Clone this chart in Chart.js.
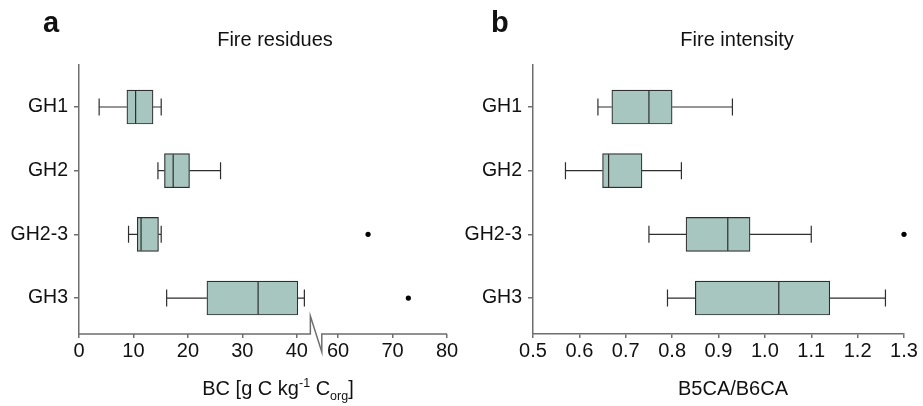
<!DOCTYPE html>
<html>
<head>
<meta charset="utf-8">
<script src="https://cdn.jsdelivr.net/npm/chart.js@4.4.0/dist/chart.umd.min.js"></script>
<style>
  html, body { margin: 0; padding: 0; background: #fff; }
  #wrap { position: relative; width: 923px; height: 406px; }
  .panel { position: absolute; top: 0; height: 406px; }
  #left { left: 0; width: 461px; }
  #right { left: 461px; width: 462px; }
</style>
</head>
<body>
<div id="wrap">
  <div class="panel" id="left"><canvas id="bcChart"></canvas></div>
  <div class="panel" id="right"><canvas id="ratioChart"></canvas></div>
</div>
<script>
const groups = ['GH1', 'GH2', 'GH2-3', 'GH3'];

// a: Fire residues, BC [g C kg-1 Corg]
const bcMin = [3.7, 14.5, 9.1, 16.1];
const bcQ1 = [8.8, 15.7, 10.7, 23.5];
const bcMed = [10.4, 17.3, 11.4, 32.9];
const bcQ3 = [13.6, 20.3, 14.6, 40.2];
const bcMax = [15.1, 26.0, 15.1, 41.4];
const bcOutliers = [null, null, 65.5, 72.9];
const bcTicks = [0, 10, 20, 30, 40, 60, 70, 80];

// b: Fire intensity, B5CA/B6CA
const ratioMin = [0.64, 0.57, 0.75, 0.79];
const ratioQ1 = [0.67, 0.65, 0.83, 0.85];
const ratioMed = [0.75, 0.663, 0.92, 1.03];
const ratioQ3 = [0.80, 0.735, 0.968, 1.14];
const ratioMax = [0.93, 0.82, 1.10, 1.26];
const ratioOutliers = [null, null, 1.30, null];
const ratioTicks = [0.5, 0.6, 0.7, 0.8, 0.9, 1.0, 1.1, 1.2, 1.3];

// broken BC axis: values above the break are shifted left
const breakShift = 12.4;
const breakLeftEnd = 42.5;   // last value drawn before the break
const breakRightStart = 57.0; // first value drawn after the break
const bcAxis = v => (v > 50 ? v - breakShift : v);

const FONT = '"Liberation Sans", Arial, Helvetica, sans-serif';
const AXIS_GREY = '#6e6e6e';
const LINE_DARK = '#2e2e2e';
const BOX_FILL = '#a8c6c0';

// whiskers, caps and medians drawn on top of the floating bars
const boxPlot = {
  id: 'boxPlot',
  afterDatasetsDraw(chart, args, opts) {
    const ctx = chart.ctx;
    const x = chart.scales.x, y = chart.scales.y;
    const px = v => x.getPixelForValue(opts.toAxis(v));
    ctx.save();
    ctx.strokeStyle = LINE_DARK;
    ctx.lineWidth = 1.2;
    opts.med.forEach((m, i) => {
      const cy = y.getPixelForValue(i + 1);
      ctx.beginPath();
      ctx.moveTo(px(opts.min[i]), cy);
      ctx.lineTo(px(opts.q1[i]), cy);
      ctx.moveTo(px(opts.q3[i]), cy);
      ctx.lineTo(px(opts.max[i]), cy);
      [opts.min[i], opts.max[i]].forEach(v => {
        ctx.moveTo(px(v), cy - 8.5);
        ctx.lineTo(px(v), cy + 8.5);
      });
      ctx.moveTo(px(m), cy - 16.5);
      ctx.lineTo(px(m), cy + 16.5);
      ctx.stroke();
    });
    ctx.restore();
  }
};

// panel letter, title and rich x-axis title
const panelText = {
  id: 'panelText',
  afterDraw(chart, args, opts) {
    const ctx = chart.ctx;
    ctx.save();
    ctx.fillStyle = '#111';
    ctx.textBaseline = 'alphabetic';
    ctx.textAlign = 'left';
    ctx.font = 'bold 29px ' + FONT;
    ctx.fillText(opts.letter, opts.letterX, 32);
    ctx.textAlign = 'center';
    ctx.font = '20px ' + FONT;
    ctx.fillText(opts.title, opts.titleX, 46);
    ctx.textAlign = 'left';
    let w = 0;
    opts.axisTitle.forEach(p => {
      ctx.font = p.size + 'px ' + FONT;
      p.w = ctx.measureText(p.t).width;
      w += p.w;
    });
    let tx = opts.axisTitleX - w / 2;
    opts.axisTitle.forEach(p => {
      ctx.font = p.size + 'px ' + FONT;
      ctx.fillText(p.t, tx, 395 + p.dy);
      tx += p.w;
    });
    ctx.restore();
  }
};

// x axis line with the break symbol for panel a
const brokenAxis = {
  id: 'brokenAxis',
  afterDraw(chart) {
    const ctx = chart.ctx;
    const x = chart.scales.x;
    const yb = chart.chartArea.bottom;
    const xl = x.getPixelForValue(breakLeftEnd);
    const xr = x.getPixelForValue(bcAxis(breakRightStart));
    ctx.save();
    ctx.strokeStyle = AXIS_GREY;
    ctx.lineWidth = 1.5;
    ctx.beginPath();
    ctx.moveTo(x.left, yb);
    ctx.lineTo(xl, yb);
    ctx.lineTo(xl, yb - 18);
    ctx.lineTo(xr, yb + 18);
    ctx.lineTo(xr, yb);
    ctx.lineTo(x.right, yb);
    ctx.stroke();
    ctx.restore();
  }
};

function makeChart(id, s) {
  const boxes = groups.map((g, i) => ({ y: i + 1, x: [s.toAxis(s.q1[i]), s.toAxis(s.q3[i])] }));
  const dots = [];
  s.outliers.forEach((v, i) => { if (v !== null) dots.push({ x: s.toAxis(v), y: i + 1 }); });

  return new Chart(document.getElementById(id), {
    type: 'bar',
    data: {
      datasets: [{
        data: boxes,
        backgroundColor: BOX_FILL,
        borderColor: LINE_DARK,
        borderWidth: 1.2,
        borderSkipped: false,
        barThickness: 34
      }, {
        type: 'scatter',
        indexAxis: 'x',
        data: dots,
        pointRadius: 2.6,
        pointBackgroundColor: '#000',
        pointBorderWidth: 0,
        clip: false
      }]
    },
    options: {
      indexAxis: 'y',
      responsive: true,
      maintainAspectRatio: false,
      animation: false,
      layout: { padding: { top: 65, right: s.padRight, bottom: 0, left: 0 } },
      plugins: {
        legend: { display: false },
        tooltip: { enabled: false },
        boxPlot: { min: s.min, q1: s.q1, med: s.med, q3: s.q3, max: s.max, toAxis: s.toAxis },
        panelText: s.text
      },
      scales: {
        x: {
          type: 'linear',
          min: s.xMin,
          max: s.xMax,
          offset: false,
          beginAtZero: false,
          afterBuildTicks: sc => { sc.ticks = s.ticks.map(v => ({ value: s.toAxis(v) })); },
          afterFit: sc => { sc.height = 72; },
          ticks: {
            color: '#111',
            font: { family: FONT, size: 20 },
            padding: 1,
            maxRotation: 0,
            autoSkip: false,
            callback: (v, i) => s.tickText(s.ticks[i])
          },
          grid: { drawOnChartArea: false, drawTicks: true, tickLength: 4, color: AXIS_GREY, lineWidth: 1.5, offset: false },
          border: { display: s.xBorder, color: AXIS_GREY, width: 1.5 }
        },
        y: {
          type: 'linear',
          reverse: true,
          min: 0.34,
          max: 4.565,
          offset: false,
          afterBuildTicks: sc => { sc.ticks = groups.map((g, i) => ({ value: i + 1 })); },
          afterFit: sc => { sc.width = s.yWidth; },
          ticks: {
            color: '#111',
            font: { family: FONT, size: 19.5 },
            padding: 6,
            autoSkip: false,
            callback: v => groups[v - 1]
          },
          grid: { drawOnChartArea: false, drawTicks: true, tickLength: 5, color: AXIS_GREY, lineWidth: 1.5, offset: false },
          border: { display: true, color: AXIS_GREY, width: 1.5 }
        }
      }
    },
    plugins: s.plugins
  });
}

makeChart('bcChart', {
  min: bcMin, q1: bcQ1, med: bcMed, q3: bcQ3, max: bcMax, outliers: bcOutliers,
  ticks: bcTicks, toAxis: bcAxis, tickText: v => String(v),
  xMin: 0, xMax: bcAxis(80), xBorder: false, yWidth: 79, padRight: 14,
  text: {
    letter: 'a', letterX: 43, title: 'Fire residues', titleX: 275, axisTitleX: 278,
    axisTitle: [
      { t: 'BC [g C kg', size: 20, dy: 0 },
      { t: '-1', size: 12.5, dy: -8 },
      { t: ' C', size: 20, dy: 0 },
      { t: 'org', size: 12.5, dy: 5 },
      { t: ']', size: 20, dy: 0 }
    ]
  },
  plugins: [boxPlot, panelText, brokenAxis]
});

makeChart('ratioChart', {
  min: ratioMin, q1: ratioQ1, med: ratioMed, q3: ratioQ3, max: ratioMax, outliers: ratioOutliers,
  ticks: ratioTicks, toAxis: v => v, tickText: v => v.toFixed(1),
  xMin: 0.5, xMax: 1.3, xBorder: true, yWidth: 72, padRight: 19,
  text: {
    letter: 'b', letterX: 30, title: 'Fire intensity', titleX: 276, axisTitleX: 272,
    axisTitle: [{ t: 'B5CA/B6CA', size: 20, dy: 0 }]
  },
  plugins: [boxPlot, panelText]
});
</script>
</body>
</html>
